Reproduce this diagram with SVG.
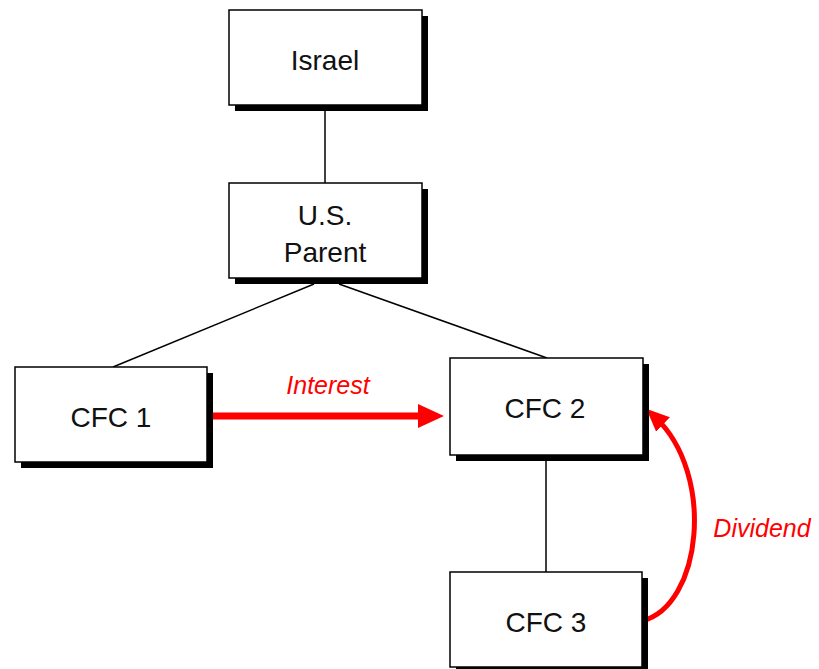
<svg xmlns="http://www.w3.org/2000/svg" width="819" height="669" viewBox="0 0 819 669">
<style>
.box{fill:#fff;stroke:#000;stroke-width:1.5}
.shadow{fill:#000}
.lbl{font-family:"Liberation Sans",Arial,sans-serif;font-size:28px;fill:#111;text-anchor:middle}
.elbl{font-family:"Liberation Sans",Arial,sans-serif;font-size:25px;font-style:italic;fill:#f00}
.conn{stroke:#000;stroke-width:1.5;fill:none}
.flow{stroke:#f00;fill:none}
</style>
<defs>
<marker id="ah" markerUnits="userSpaceOnUse" markerWidth="27" markerHeight="26" viewBox="0 0 27 26" refX="4" refY="13" orient="auto">
<path d="M0,1 L26,13 L0,25 Z" fill="#f00"/>
</marker>
<marker id="ah2" markerUnits="userSpaceOnUse" markerWidth="24" markerHeight="24" viewBox="0 0 24 24" refX="11" refY="12" orient="auto">
<path d="M0,2 L23,12 L0,22 Z" fill="#f00"/>
</marker>
</defs>
<g id="connectors">
<line class="conn" x1="325" y1="105" x2="325" y2="183"/>
<line class="conn" x1="314" y1="284" x2="113" y2="367"/>
<line class="conn" x1="339" y1="284" x2="547" y2="358"/>
<line class="conn" x1="546" y1="460" x2="546" y2="572"/>
<line class="flow" stroke-width="7" x1="212" y1="416" x2="422" y2="416" marker-end="url(#ah)"/>
<path class="flow" stroke-width="5" d="M642,621 C702,606 716,474 655,417" marker-end="url(#ah2)"/>
<text class="elbl" x="328" y="394" text-anchor="middle">Interest</text>
<text class="elbl" x="762" y="537" text-anchor="middle">Dividend</text>
</g>
<g id="israel">
<rect class="shadow" x="235" y="16" width="193" height="95"/>
<rect class="box" x="229" y="10" width="193" height="95"/>
<text class="lbl" x="325" y="70">Israel</text>
</g>
<g id="usparent">
<rect class="shadow" x="235" y="189" width="193" height="95"/>
<rect class="box" x="229" y="183" width="193" height="95"/>
<text class="lbl" x="325" y="225">U.S.</text>
<text class="lbl" x="325" y="262">Parent</text>
</g>
<g id="cfc1">
<rect class="shadow" x="21" y="373" width="192" height="95"/>
<rect class="box" x="15" y="367" width="192" height="95"/>
<text class="lbl" x="111" y="427">CFC 1</text>
</g>
<g id="cfc2">
<rect class="shadow" x="456" y="364" width="193" height="97"/>
<rect class="box" x="450" y="358" width="193" height="97"/>
<text class="lbl" x="545" y="418">CFC 2</text>
</g>
<g id="cfc3">
<rect class="shadow" x="456" y="578" width="192" height="95"/>
<rect class="box" x="450" y="572" width="192" height="95"/>
<text class="lbl" x="546" y="632">CFC 3</text>
</g>
</svg>
